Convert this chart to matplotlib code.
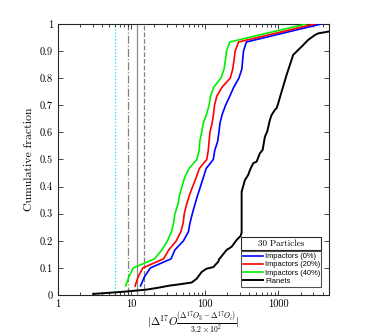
import matplotlib

matplotlib.use("Agg")
import matplotlib.pyplot as plt
from matplotlib.patches import Rectangle
from matplotlib.ticker import FixedLocator, FuncFormatter, LogLocator, NullFormatter

# cumulative fraction levels for the 30 impactor particles
particle_cdf = [i / 30 for i in range(1, 31)]

impactors_0 = [
    13.3, 15.0, 18.1, 34.5, 39.1, 51.0, 59.6, 62.7, 67.4, 72.9,
    79.3, 86.9, 95.1, 104, 130, 136, 149, 155, 160, 172,
    191, 218, 247, 290, 318, 326, 335, 367, 1188, 3870,
]
impactors_20 = [
    11.2, 12.3, 14.3, 27.3, 32.3, 40.8, 47.0, 50.7, 52.4, 56.2,
    61.3, 68.0, 76.1, 83.9, 106, 111, 114, 117, 125, 131,
    135, 145, 171, 221, 239, 249, 258, 287, 954, 3140,
]
impactors_40 = [
    8.34, 9.22, 10.6, 20.6, 26.0, 30.9, 35.1, 37.4, 39.1, 42.8,
    45.1, 48.7, 52.9, 60.8, 77.6, 83.4, 85.2, 90.2, 94.8, 105,
    114, 119, 132, 165, 182, 190, 197, 218, 720, 2420,
]

planets_x = [
    3.02, 7.73, 16.1, 24.4, 33.4, 41.2, 65.9, 77.1, 90.2, 105,
    130, 152, 155, 197, 231, 270, 306, 316, 316, 350,
    388, 410, 454, 505, 560, 610, 655, 704, 766, 808,
    896, 945, 994, 1105, 1293, 1434, 1590, 1768, 2175, 2543,
    3138, 3479, 4865, 6000,
]
planets_cdf = [
    0.004, 0.012, 0.020, 0.028, 0.035, 0.038, 0.046, 0.060, 0.085, 0.097,
    0.103, 0.123, 0.131, 0.166, 0.178, 0.203, 0.218, 0.230, 0.381, 0.424,
    0.443, 0.461, 0.486, 0.492, 0.523, 0.535, 0.584, 0.603, 0.646, 0.664,
    0.683, 0.689, 0.707, 0.750, 0.812, 0.849, 0.886, 0.898, 0.922, 0.941,
    0.959, 0.965, 0.972, 0.974,
]

# reference thresholds drawn as vertical lines
threshold_x = [6.0, 9.05, 12.0, 15.0]
threshold_colors = ["#00e5ee", "#808080", "#8c8c8c", "#808080"]
threshold_styles = [":", "-.", "-", "--"]

series_labels = ["Impactors (0%)", "Impactors (20%)", "Impactors (40%)", "Planets"]
series_colors = ["#0000ff", "#ff0000", "#00ee00", "#000000"]

y_ticks = [round(0.1 * i, 1) for i in range(11)]
x_ticks = [1, 10, 100, 1000]

plt.rcParams["font.family"] = "cmr10"
plt.rcParams["mathtext.fontset"] = "cm"
plt.rcParams["axes.formatter.use_mathtext"] = True

fig = plt.figure(figsize=(3.74, 3.32), dpi=100)
ax = fig.add_axes([0.155, 0.1114, 0.725, 0.8166])

for xv, col, ls in zip(threshold_x, threshold_colors, threshold_styles):
    ax.axvline(xv, color=col, linestyle=ls, linewidth=0.9, zorder=1)

impactor_sets = [impactors_0, impactors_20, impactors_40]
for values, label, color in zip(impactor_sets, series_labels[:3], series_colors[:3]):
    ax.plot(values, particle_cdf, color=color, linewidth=1.2, label=label, zorder=3)

ax.plot(planets_x, planets_cdf, color=series_colors[3], linewidth=1.4,
        label=series_labels[3], zorder=3)

ax.set_xscale("log")
ax.set_xlim(1, 4900)
ax.set_ylim(0, 1)

ax.xaxis.set_major_locator(FixedLocator(x_ticks))
ax.xaxis.set_minor_locator(LogLocator(base=10, subs=range(2, 10), numticks=20))
ax.xaxis.set_major_formatter(FuncFormatter(lambda v, p: "%d" % v))
ax.xaxis.set_minor_formatter(NullFormatter())
ax.yaxis.set_major_locator(FixedLocator(y_ticks))
ax.yaxis.set_major_formatter(FuncFormatter(lambda v, p: "%g" % v))

ax.tick_params(which="both", direction="in", top=True, right=True,
               labelsize=7.5, width=0.6, colors="#262626", labelcolor="black")
ax.tick_params(which="major", length=3.5)
ax.tick_params(which="minor", length=2)
for spine in ax.spines.values():
    spine.set_linewidth(0.8)
    spine.set_color("#262626")

ax.set_ylabel("Cumulative fraction", fontsize=8.5, labelpad=4)
# fraction set inline (text style) so it sits on the math axis like the original
ax.set_xlabel(
    r"$|\Delta^{17}O\frac{(\Delta^{17}O_3-\Delta^{17}O_i)}{3.2\times10^2}|$",
    fontsize=8, va="top",
)
ax.xaxis.set_label_coords(0.5, -0.053)

# "30 Particles" header box above the legend
ax.add_patch(Rectangle((0.675, 0.166), 0.294, 0.049, transform=ax.transAxes,
                       facecolor="white", edgecolor="#262626", linewidth=0.8,
                       zorder=5))
ax.text(0.822, 0.1905, "30 Particles", transform=ax.transAxes, ha="center",
        va="center", fontsize=6.5, zorder=6)

leg = ax.legend(
    loc="lower left",
    bbox_to_anchor=(0.675, 0.031, 0.294, 0.125),
    mode="expand",
    prop={"family": "Liberation Sans", "size": 5.4},
    frameon=True,
    fancybox=False,
    handlelength=2.7,
    handletextpad=0.3,
    borderpad=0.25,
    labelspacing=0.12,
    borderaxespad=0,
)
leg.get_frame().set_edgecolor("#262626")
leg.get_frame().set_linewidth(0.8)
leg.set_zorder(6)

fig.savefig("out.png", dpi=100)
